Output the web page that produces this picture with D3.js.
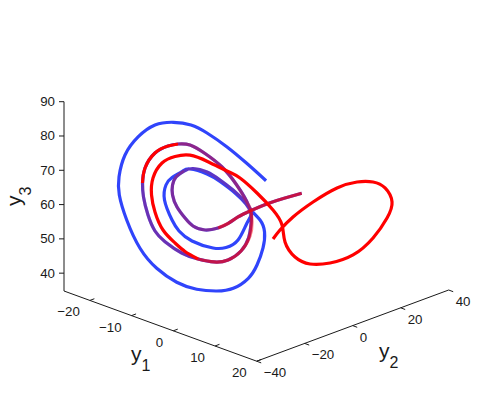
<!DOCTYPE html>
<html>
<head>
<meta charset="utf-8">
<script src="https://cdn.jsdelivr.net/npm/d3@7"></script>
<style>
  html, body { margin: 0; background: #fff; }
  text { font-family: "Liberation Sans", sans-serif; fill: #1a1a1a; }
  .tick { font-size: 13.3px; }
  .name { font-size: 21px; }
  .sub { font-size: 16px; }
</style>
</head>
<body>
<div id="chart"></div>
<script>
var width = 491,
    height = 407;

// tick labels
var y1Ticks = [-20, -10, 0, 10, 20],
    y2Ticks = [-40, -20, 0, 20, 40],
    y3Ticks = [40, 50, 60, 70, 80, 90];

// trajectory pieces, each point is [y1, y2, y3]
var sharedStart = [[4.60,5.52,65.13],[2.23,2.68,63.44],[-0.18,-0.21,61.52],[-2.73,-3.28,59.00],[-4.43,-5.32,57.03],[-5.85,-7.02,54.94],[-7.27,-8.72,53.44],[-9.11,-10.94,52.62],[-10.82,-12.98,53.56],[-11.95,-14.34,55.74],[-13.09,-15.70,58.80],[-13.72,-16.47,62.22],[-13.72,-16.47,65.13],[-13.23,-15.87,67.53],[-12.09,-14.51,69.43],[-10.82,-12.98,70.32],[-8.83,-10.60,69.57],[-6.99,-8.38,67.48],[-5.14,-6.17,64.80],[-3.58,-4.30,61.80],[-2.59,-3.11,58.43]];

var blueInner = [[-2.59,-3.11,58.43],[-3.16,-3.79,55.44],[-4.43,-5.32,50.32],[-6.13,-7.36,47.91],[-7.98,-9.57,47.52],[-10.96,-13.15,49.17],[-12.80,-15.36,51.84],[-13.79,-16.55,54.92],[-14.86,-17.83,60.61],[-14.65,-17.58,65.01],[-13.79,-16.55,67.31],[-12.38,-14.85,69.24],[-11.24,-13.49,70.12],[-8.83,-10.60,68.98],[-6.99,-8.38,67.04],[-4.86,-5.83,63.97],[-3.30,-3.96,60.97],[-2.59,-3.11,58.43]];

var sharedBottom = [[-2.59,-3.11,58.43],[-2.59,-3.11,55.23],[-2.94,-3.53,51.10],[-4.01,-4.81,47.17],[-5.85,-7.02,44.30],[-7.84,-9.40,43.46],[-10.11,-12.13,44.03],[-12.42,-14.90,45.48],[-14.79,-17.74,48.46],[-16.21,-19.45,51.39],[-17.20,-20.64,55.93],[-17.84,-21.40,61.09],[-17.98,-21.57,65.15]];

var sharedTop = [[-17.98,-21.57,65.15],[-17.62,-21.15,69.57],[-16.21,-19.45,74.13],[-14.36,-17.23,76.42],[-12.94,-15.53,77.19]];

var sharedRight = [[-12.94,-15.53,77.19],[-11.24,-13.49,77.12],[-9.11,-10.94,74.92],[-6.70,-8.04,71.30],[-4.72,-5.66,66.61],[-3.30,-3.96,62.13],[-2.59,-3.11,59.31]];

var blueOuter = [[-2.59,-3.11,59.31],[-1.31,-1.57,56.56],[-0.67,-0.81,53.15],[-0.89,-1.06,48.46],[-1.74,-2.09,43.38],[-2.97,-3.57,39.35],[-5.10,-6.12,36.15],[-7.45,-8.94,35.05],[-10.29,-12.35,35.17],[-13.13,-15.75,36.84],[-15.96,-19.16,40.55],[-18.33,-22.00,46.07],[-20.22,-24.26,54.07],[-21.27,-25.52,61.22],[-21.31,-25.57,66.55],[-20.46,-24.55,72.99],[-18.57,-22.29,78.57],[-16.21,-19.45,82.29],[-13.61,-16.33,83.43],[-11.10,-13.32,82.97],[-8.83,-10.60,80.94],[-6.04,-7.24,77.31],[-3.20,-3.84,72.84],[-0.46,-0.55,68.13]];

var redBottom = [[-2.59,-3.11,59.31],[-2.45,-2.94,55.83],[-2.73,-3.28,51.71],[-4.01,-4.81,47.17],[-5.85,-7.02,44.30],[-7.84,-9.40,43.46],[-10.11,-12.13,44.03]];

var redLoop = [[-10.11,-12.13,44.03],[-11.95,-14.34,45.98],[-13.37,-16.04,48.27],[-15.07,-18.09,51.83],[-16.21,-19.45,56.93],[-16.70,-20.04,61.82],[-16.49,-19.79,66.81],[-15.21,-18.26,71.35],[-13.37,-16.04,73.49],[-11.24,-13.49,74.15],[-8.69,-10.43,72.59],[-5.85,-7.02,70.10],[-4.15,-4.98,68.43],[-1.74,-2.09,64.38],[0.53,0.64,59.72],[1.81,2.17,55.52],[2.23,2.68,50.62],[3.65,4.38,46.43],[5.78,6.94,44.67],[8.62,10.34,45.34],[11.88,14.26,48.10],[14.72,17.66,53.43],[16.70,20.04,59.52],[17.41,20.89,64.28],[16.42,19.70,68.23],[14.72,17.66,69.75],[12.45,14.94,69.45],[9.61,11.53,67.33],[6.21,7.45,62.80],[3.37,4.04,58.05],[1.52,1.83,54.02],[0.53,0.64,51.27]];

var blue = "#3044fb",
    red = "#ff0000";

// each data axis moves the point along its own direction on the page
var origin = [64, 291];

var y1Scale = d3.scaleLinear().domain([-26.2, 20]).range([[0, 0], [192.7, 70.2]]);
var y2Scale = d3.scaleLinear().domain([-40, 40]).range([[0, 0], [192, -71.2]]);
var y3Scale = d3.scaleLinear().domain([34.8, 90]).range([[0, 0], [0, -189.3]]);

function project(d) {
  var a = y1Scale(d[0]).slice(),
      b = y2Scale(d[1]).slice(),
      c = y3Scale(d[2]).slice();
  return [origin[0] + a[0] + b[0] + c[0], origin[1] + a[1] + b[1] + c[1]];
}

var svg = d3.select("#chart").append("svg")
    .attr("width", width)
    .attr("height", height)
    .style("display", "block");

var line = d3.line()
    .x(function(d) { return project(d)[0]; })
    .y(function(d) { return project(d)[1]; })
    .curve(d3.curveNatural);

// the pieces repeat their joining point, a natural spline needs it only once
function join(pieces) {
  return d3.merge(pieces).filter(function(d, i, all) {
    return i == 0 || d[0] != all[i - 1][0] || d[1] != all[i - 1][1] || d[2] != all[i - 1][2];
  });
}

// axes
function axisLine(a, b) {
  var p = project(a), q = project(b);
  svg.append("line")
      .attr("x1", p[0]).attr("y1", p[1])
      .attr("x2", q[0]).attr("y2", q[1])
      .attr("stroke", "#1a1a1a");
}

axisLine([-26.2, -40, 34.8], [-26.2, -40, 90]);
axisLine([-26.2, -40, 34.8], [20, -40, 34.8]);
axisLine([20, -40, 34.8], [20, 40, 34.8]);

y3Ticks.forEach(function(t) {
  var p = project([-26.2, -40, t]);
  svg.append("line")
      .attr("x1", p[0] - 5).attr("y1", p[1])
      .attr("x2", p[0]).attr("y2", p[1])
      .attr("stroke", "#1a1a1a");
  svg.append("text")
      .attr("class", "tick")
      .attr("x", p[0] - 9).attr("y", p[1] + 4.5)
      .attr("text-anchor", "end")
      .text(t);
});

y1Ticks.forEach(function(t) {
  var p = project([t, -40, 34.8]);
  svg.append("line")
      .attr("x1", p[0]).attr("y1", p[1])
      .attr("x2", p[0] + 4.5).attr("y2", p[1] - 1.7)
      .attr("stroke", "#1a1a1a");
  svg.append("text")
      .attr("class", "tick")
      .attr("x", p[0] - 10).attr("y", p[1] + 16)
      .attr("text-anchor", "end")
      .text(String(t).replace("-", "\u2212"));
});

y2Ticks.forEach(function(t) {
  var p = project([20, t, 34.8]);
  svg.append("line")
      .attr("x1", p[0]).attr("y1", p[1])
      .attr("x2", p[0] + 4.5).attr("y2", p[1] + 1.7)
      .attr("stroke", "#1a1a1a");
  svg.append("text")
      .attr("class", "tick")
      .attr("x", p[0] + 7).attr("y", p[1] + 16)
      .text(String(t).replace("-", "\u2212"));
});

// axis names
function axisName(g, sub) {
  g.append("text").attr("class", "name").text("y");
  g.append("text").attr("class", "sub").attr("x", 10.5).attr("y", 10).text(sub);
}

axisName(svg.append("g").attr("transform", "translate(131,361)"), "1");
axisName(svg.append("g").attr("transform", "translate(379,358)"), "2");
axisName(svg.append("g").attr("transform", "translate(21,206) rotate(-90)"), "3");

// curves: blue first, red over it, see-through where the two runs agree
var curves = svg.append("g")
    .attr("fill", "none")
    .attr("stroke-width", 3.2)
    .attr("stroke-linecap", "butt")
    .attr("stroke-linejoin", "round");

curves.append("path")
    .attr("d", line(join([sharedStart, blueInner, sharedBottom, sharedTop, sharedRight, blueOuter])))
    .attr("stroke", blue);

[
  [sharedStart.slice(0, 7), 0.72],
  [sharedStart.slice(6, 15), 0.36],
  [sharedStart.slice(14), 0.22],
  [sharedBottom.slice(0, 7), 0.4],
  [sharedBottom.slice(6), 0.28],
  [sharedTop, 1],
  [sharedRight, 0.45],
  [redBottom, 0.5],
  [redLoop, 1]
].forEach(function(s) {
  curves.append("path")
      .attr("d", line(s[0]))
      .attr("stroke", red)
      .attr("stroke-opacity", s[1]);
});
</script>
</body>
</html>
